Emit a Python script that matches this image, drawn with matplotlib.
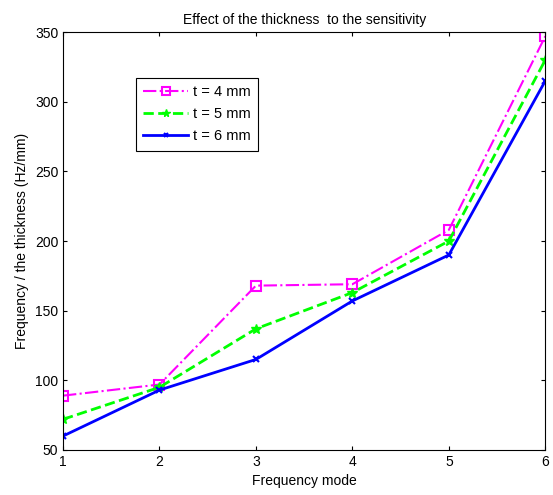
import matplotlib
matplotlib.use("Agg")
import matplotlib.pyplot as plt

plt.rcParams['font.family'] = ['Liberation Sans', 'DejaVu Sans']

modes = [1, 2, 3, 4, 5, 6]
t4 = [89, 97, 168, 169, 208, 347]
t5 = [72, 95, 137, 163, 200, 330]
t6 = [60, 93, 115, 157, 190, 315]
labels = ['t = 4 mm', 't = 5 mm', 't = 6 mm']
xticks = [1, 2, 3, 4, 5, 6]
yticks = [50, 100, 150, 200, 250, 300, 350]

fig = plt.figure(figsize=(5.53, 4.95), dpi=100)
ax = fig.add_axes([0.114, 0.091, 0.872, 0.844])

ax.plot(modes, t4, color='#ff00ff', linestyle='-.', marker='s', markersize=7,
        markerfacecolor='none', markeredgewidth=1.5, linewidth=1.5, label=labels[0])
ax.plot(modes, t5, color='#00ff00', linestyle='--', marker='*', markersize=7,
        linewidth=2, label=labels[1])
ax.plot(modes, t6, color='#0000ff', linestyle='-', marker='x', markersize=4,
        markeredgewidth=1.5, linewidth=2, label=labels[2])

ax.set_xlim(1, 6)
ax.set_ylim(50, 350)
ax.set_xticks(xticks)
ax.set_yticks(yticks)
ax.tick_params(direction='in', top=True, right=True, labelsize=10, length=3)
ax.set_xlabel('Frequency mode', fontsize=10)
ax.set_ylabel('Frequency / the thickness (Hz/mm)', fontsize=10)
ax.set_title('Effect of the thickness  to the sensitivity', fontsize=10)

leg = ax.legend(loc='upper left', bbox_to_anchor=(0.151, 0.890), fontsize=10.5,
                fancybox=False, edgecolor='black', framealpha=1, handlelength=3.1,
                borderpad=0.5, handletextpad=0.3, labelspacing=0.55, borderaxespad=0,
                markerscale=0.8)
leg.get_frame().set_linewidth(0.8)

fig.savefig('out.png', dpi=100)
